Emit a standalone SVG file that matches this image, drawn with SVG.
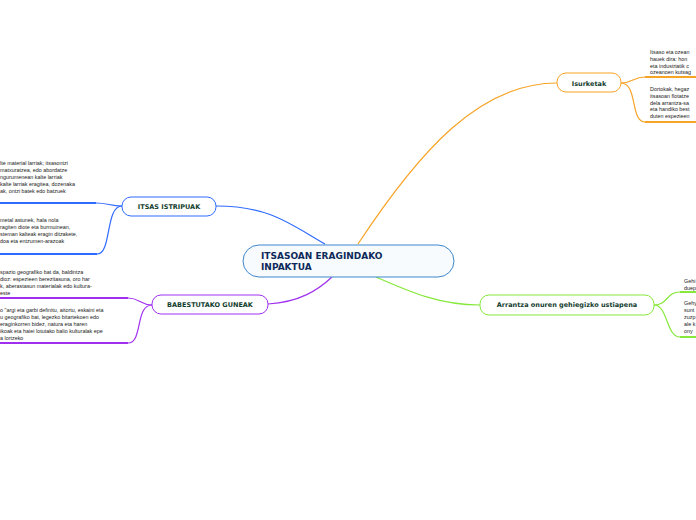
<svg xmlns="http://www.w3.org/2000/svg" width="696" height="520" viewBox="0 0 696 520">
<style>
.lbl{font-family:"DejaVu Sans",Verdana,sans-serif;font-weight:bold;font-size:6.5px;fill:#123d2e;text-anchor:middle}
.main{font-family:"DejaVu Sans",Verdana,sans-serif;font-weight:bold;font-size:9px;fill:#0d2a5a}
.note{font-family:"Liberation Sans",Arial,sans-serif;font-size:5.4px;fill:#222}
.c{fill:none;stroke-width:1.2}
.u{fill:none;stroke-width:2}
</style>
<rect width="696" height="520" fill="#ffffff"/>
<g id="connectors">
  <path class="c" stroke="#2f6bff" d="M216,206 C270,206 290,224 325,244"/>
  <path class="c" stroke="#a030f0" d="M268,304 C300,302 318,290 332,277"/>
  <path class="c" stroke="#f7a325" d="M358,244 C420,150 480,83 557,83"/>
  <path class="c" stroke="#86e83a" d="M376,277 C410,292 440,305 480,305"/>
  <path class="c" stroke="#2f6bff" d="M122,206 C110,206 108,203 96,203"/>
  <path class="c" stroke="#2f6bff" d="M122,206 C105,206 112,254 97,254"/>
  <path class="c" stroke="#a030f0" d="M152,305 C140,305 140,298 128,298"/>
  <path class="c" stroke="#a030f0" d="M152,305 C135,305 143,343 128,343"/>
  <path class="c" stroke="#f7a325" d="M621,83 C633,83 633,77 645,77"/>
  <path class="c" stroke="#f7a325" d="M621,83 C638,83 630,122 645,122"/>
  <path class="c" stroke="#86e83a" d="M654,305 C668,305 666,292 680,292"/>
  <path class="c" stroke="#86e83a" d="M654,305 C668,305 666,337 680,337"/>
</g>
<g id="center">
  <rect x="243" y="245" width="211" height="32" rx="16" fill="#f8fbfe" stroke="#3d87cc" stroke-width="1"/>
  <text class="main" x="261" y="259">ITSASOAN ERAGINDAKO</text>
  <text class="main" x="261" y="270">INPAKTUA</text>
</g>
<g id="itsas-istripuak">
  <rect x="122" y="197" width="94" height="19" rx="9" fill="#ffffff" stroke="#2f6bff" stroke-width="1"/>
  <text class="lbl" x="169" y="209">ITSAS ISTRIPUAK</text>
</g>
<g id="istripuak-note1">
  <path class="u" stroke="#2f6bff" d="M0,203 H96"/>
  <text class="note" x="0" y="165">lte material larriak; itsasontzi</text>
  <text class="note" x="0" y="172">matxuratzea, edo abordatze</text>
  <text class="note" x="0" y="179">ngurumenean kalte larriak</text>
  <text class="note" x="0" y="186">kalte larriak eragitea, dozenaka</text>
  <text class="note" x="0" y="193">ak, ontzi batek edo batzuek</text>
</g>
<g id="istripuak-note2">
  <path class="u" stroke="#2f6bff" d="M0,254 H97"/>
  <text class="note" x="0" y="222">metal astunek, hala nola</text>
  <text class="note" x="0" y="229">ragiten diote eta burmuinean,</text>
  <text class="note" x="0" y="236">steman kalteak eragin ditzakete,</text>
  <text class="note" x="0" y="243">doa eta entzumen-arazoak</text>
</g>
<g id="babestutako-guneak">
  <rect x="152" y="295" width="116" height="19" rx="9" fill="#ffffff" stroke="#a030f0" stroke-width="1"/>
  <text class="lbl" x="210" y="307">BABESTUTAKO GUNEAK</text>
</g>
<g id="guneak-note1">
  <path class="u" stroke="#a030f0" d="M0,298 H128"/>
  <text class="note" x="0" y="274">spazio geografiko bat da, baldintza</text>
  <text class="note" x="0" y="281">dioz: espezieen berezitasuna, oro har</text>
  <text class="note" x="0" y="288">k, aberastasun materialak edo kultura-</text>
  <text class="note" x="0" y="295">este</text>
</g>
<g id="guneak-note2">
  <path class="u" stroke="#a030f0" d="M0,343 H128"/>
  <text class="note" x="0" y="312">o "argi eta garbi definitu, aitortu, eskaini eta</text>
  <text class="note" x="0" y="319">u geografiko bat, legezko bitartekoen edo</text>
  <text class="note" x="0" y="326"> eraginkorren bidez, natura eta haren</text>
  <text class="note" x="0" y="333">ikoak eta haiei lotutako balio kulturalak epe</text>
  <text class="note" x="0" y="340">a lortzeko</text>
</g>
<g id="isurketak">
  <rect x="557" y="73" width="64" height="19" rx="9" fill="#ffffff" stroke="#f7a325" stroke-width="1"/>
  <text class="lbl" x="589" y="86">Isurketak</text>
</g>
<g id="isurketak-note1">
  <path class="u" stroke="#f7a325" d="M645,77 H696"/>
  <text class="note" x="650" y="54">Itsaso eta ozean</text>
  <text class="note" x="650" y="61">hauek dira: hon</text>
  <text class="note" x="650" y="68">eta industriatik c</text>
  <text class="note" x="650" y="74">ozeanoen kutsag</text>
</g>
<g id="isurketak-note2">
  <path class="u" stroke="#f7a325" d="M645,122 H696"/>
  <text class="note" x="650" y="91">Dortokak, hegaz</text>
  <text class="note" x="650" y="98">itsasoan flotatze</text>
  <text class="note" x="650" y="105">dela arrantza-sa</text>
  <text class="note" x="650" y="111">eta handiko best</text>
  <text class="note" x="650" y="118">duten espezieen</text>
</g>
<g id="arrantza">
  <rect x="480" y="295" width="174" height="20" rx="9" fill="#ffffff" stroke="#86e83a" stroke-width="1"/>
  <text class="lbl" x="567" y="307">Arrantza onuren gehiegizko ustiapena</text>
</g>
<g id="arrantza-note1">
  <path class="u" stroke="#86e83a" d="M680,292 H696"/>
  <text class="note" x="684" y="283">Gehi</text>
  <text class="note" x="684" y="290">duep</text>
</g>
<g id="arrantza-note2">
  <path class="u" stroke="#86e83a" d="M680,337 H696"/>
  <text class="note" x="684" y="305">Gehy</text>
  <text class="note" x="684" y="312">sunt</text>
  <text class="note" x="684" y="319">zuzp</text>
  <text class="note" x="684" y="326">ale k</text>
  <text class="note" x="684" y="333">ony</text>
</g>
</svg>
